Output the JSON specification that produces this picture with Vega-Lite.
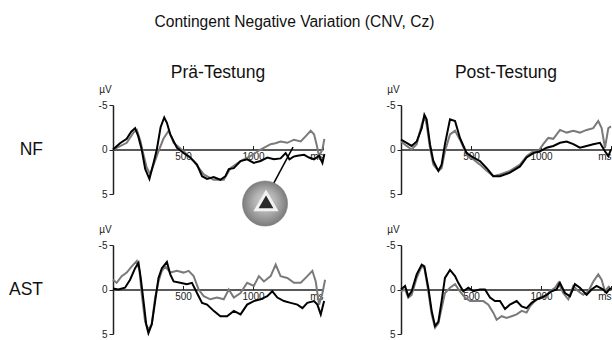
{
"$schema": "https://vega.github.io/schema/vega-lite/v6.json",
"padding": {"left": 8, "top": 14, "right": 0, "bottom": 0},
"background": "white",
"title": {"text": "Contingent Negative Variation (CNV, Cz)", "anchor": "middle", "fontSize": 15.6, "fontWeight": "normal", "font": "Liberation Sans", "color": "#111", "dx": -17.5, "offset": 33.5},
"datasets": {
"d": [
{"g":"NF","p":"Prä-Testung","s":"A","ms":0,"uv":0},{"g":"NF","p":"Prä-Testung","s":"A","ms":50,"uv":-0.7},{"g":"NF","p":"Prä-Testung","s":"A","ms":98,"uv":-1.2},{"g":"NF","p":"Prä-Testung","s":"A","ms":130,"uv":-2.0},{"g":"NF","p":"Prä-Testung","s":"A","ms":158,"uv":-2.4},{"g":"NF","p":"Prä-Testung","s":"A","ms":180,"uv":-1.5},{"g":"NF","p":"Prä-Testung","s":"A","ms":205,"uv":0},{"g":"NF","p":"Prä-Testung","s":"A","ms":230,"uv":2.2},{"g":"NF","p":"Prä-Testung","s":"A","ms":260,"uv":3.3},{"g":"NF","p":"Prä-Testung","s":"A","ms":290,"uv":1.5},{"g":"NF","p":"Prä-Testung","s":"A","ms":313,"uv":0},{"g":"NF","p":"Prä-Testung","s":"A","ms":340,"uv":-2.5},{"g":"NF","p":"Prä-Testung","s":"A","ms":366,"uv":-3.6},{"g":"NF","p":"Prä-Testung","s":"A","ms":385,"uv":-3.0},{"g":"NF","p":"Prä-Testung","s":"A","ms":409,"uv":-1.7},{"g":"NF","p":"Prä-Testung","s":"A","ms":456,"uv":-0.2},{"g":"NF","p":"Prä-Testung","s":"A","ms":504,"uv":0.4},{"g":"NF","p":"Prä-Testung","s":"A","ms":552,"uv":0.9},{"g":"NF","p":"Prä-Testung","s":"A","ms":600,"uv":1.7},{"g":"NF","p":"Prä-Testung","s":"A","ms":636,"uv":3.0},{"g":"NF","p":"Prä-Testung","s":"A","ms":672,"uv":3.3},{"g":"NF","p":"Prä-Testung","s":"A","ms":719,"uv":3.1},{"g":"NF","p":"Prä-Testung","s":"A","ms":767,"uv":3.4},{"g":"NF","p":"Prä-Testung","s":"A","ms":803,"uv":3.0},{"g":"NF","p":"Prä-Testung","s":"A","ms":827,"uv":2.2},{"g":"NF","p":"Prä-Testung","s":"A","ms":863,"uv":2.1},{"g":"NF","p":"Prä-Testung","s":"A","ms":911,"uv":1.3},{"g":"NF","p":"Prä-Testung","s":"A","ms":958,"uv":1.1},{"g":"NF","p":"Prä-Testung","s":"A","ms":1006,"uv":1.5},{"g":"NF","p":"Prä-Testung","s":"A","ms":1054,"uv":1.3},{"g":"NF","p":"Prä-Testung","s":"A","ms":1102,"uv":0.9},{"g":"NF","p":"Prä-Testung","s":"A","ms":1150,"uv":1.1},{"g":"NF","p":"Prä-Testung","s":"A","ms":1197,"uv":1.0},{"g":"NF","p":"Prä-Testung","s":"A","ms":1233,"uv":0.4},{"g":"NF","p":"Prä-Testung","s":"A","ms":1260,"uv":1.1},{"g":"NF","p":"Prä-Testung","s":"A","ms":1290,"uv":0.8},{"g":"NF","p":"Prä-Testung","s":"A","ms":1317,"uv":0.7},{"g":"NF","p":"Prä-Testung","s":"A","ms":1365,"uv":0.6},{"g":"NF","p":"Prä-Testung","s":"A","ms":1400,"uv":0.9},{"g":"NF","p":"Prä-Testung","s":"A","ms":1436,"uv":1.1},{"g":"NF","p":"Prä-Testung","s":"A","ms":1472,"uv":0.7},{"g":"NF","p":"Prä-Testung","s":"A","ms":1496,"uv":1.5},{"g":"NF","p":"Prä-Testung","s":"A","ms":1510,"uv":0.5},
{"g":"NF","p":"Prä-Testung","s":"B","ms":0,"uv":0},{"g":"NF","p":"Prä-Testung","s":"B","ms":40,"uv":-0.3},{"g":"NF","p":"Prä-Testung","s":"B","ms":98,"uv":-0.75},{"g":"NF","p":"Prä-Testung","s":"B","ms":146,"uv":-1.9},{"g":"NF","p":"Prä-Testung","s":"B","ms":170,"uv":-2.2},{"g":"NF","p":"Prä-Testung","s":"B","ms":195,"uv":-1.0},{"g":"NF","p":"Prä-Testung","s":"B","ms":218,"uv":0.6},{"g":"NF","p":"Prä-Testung","s":"B","ms":240,"uv":2.0},{"g":"NF","p":"Prä-Testung","s":"B","ms":265,"uv":2.8},{"g":"NF","p":"Prä-Testung","s":"B","ms":295,"uv":1.5},{"g":"NF","p":"Prä-Testung","s":"B","ms":325,"uv":0.2},{"g":"NF","p":"Prä-Testung","s":"B","ms":360,"uv":-1.2},{"g":"NF","p":"Prä-Testung","s":"B","ms":397,"uv":-2.1},{"g":"NF","p":"Prä-Testung","s":"B","ms":415,"uv":-1.5},{"g":"NF","p":"Prä-Testung","s":"B","ms":433,"uv":-0.75},{"g":"NF","p":"Prä-Testung","s":"B","ms":504,"uv":0.2},{"g":"NF","p":"Prä-Testung","s":"B","ms":576,"uv":1.3},{"g":"NF","p":"Prä-Testung","s":"B","ms":648,"uv":2.8},{"g":"NF","p":"Prä-Testung","s":"B","ms":719,"uv":3.4},{"g":"NF","p":"Prä-Testung","s":"B","ms":791,"uv":3.4},{"g":"NF","p":"Prä-Testung","s":"B","ms":839,"uv":2.1},{"g":"NF","p":"Prä-Testung","s":"B","ms":911,"uv":1.3},{"g":"NF","p":"Prä-Testung","s":"B","ms":982,"uv":0.75},{"g":"NF","p":"Prä-Testung","s":"B","ms":1054,"uv":0},{"g":"NF","p":"Prä-Testung","s":"B","ms":1090,"uv":-0.3},{"g":"NF","p":"Prä-Testung","s":"B","ms":1126,"uv":-0.6},{"g":"NF","p":"Prä-Testung","s":"B","ms":1160,"uv":-0.7},{"g":"NF","p":"Prä-Testung","s":"B","ms":1197,"uv":-0.9},{"g":"NF","p":"Prä-Testung","s":"B","ms":1245,"uv":-0.75},{"g":"NF","p":"Prä-Testung","s":"B","ms":1293,"uv":-1.1},{"g":"NF","p":"Prä-Testung","s":"B","ms":1341,"uv":-0.9},{"g":"NF","p":"Prä-Testung","s":"B","ms":1377,"uv":-1.5},{"g":"NF","p":"Prä-Testung","s":"B","ms":1412,"uv":-2.1},{"g":"NF","p":"Prä-Testung","s":"B","ms":1436,"uv":-1.7},{"g":"NF","p":"Prä-Testung","s":"B","ms":1455,"uv":-0.5},{"g":"NF","p":"Prä-Testung","s":"B","ms":1472,"uv":0.75},{"g":"NF","p":"Prä-Testung","s":"B","ms":1496,"uv":0},{"g":"NF","p":"Prä-Testung","s":"B","ms":1510,"uv":-1.2},
{"g":"NF","p":"Post-Testung","s":"A","ms":0,"uv":-1.1},{"g":"NF","p":"Post-Testung","s":"A","ms":40,"uv":-0.75},{"g":"NF","p":"Post-Testung","s":"A","ms":76,"uv":-0.4},{"g":"NF","p":"Post-Testung","s":"A","ms":112,"uv":-0.9},{"g":"NF","p":"Post-Testung","s":"A","ms":148,"uv":-2.4},{"g":"NF","p":"Post-Testung","s":"A","ms":167,"uv":-3.9},{"g":"NF","p":"Post-Testung","s":"A","ms":183,"uv":-3.4},{"g":"NF","p":"Post-Testung","s":"A","ms":207,"uv":-0.6},{"g":"NF","p":"Post-Testung","s":"A","ms":231,"uv":1.3},{"g":"NF","p":"Post-Testung","s":"A","ms":267,"uv":2.4},{"g":"NF","p":"Post-Testung","s":"A","ms":290,"uv":1.7},{"g":"NF","p":"Post-Testung","s":"A","ms":314,"uv":-0.6},{"g":"NF","p":"Post-Testung","s":"A","ms":350,"uv":-3.4},{"g":"NF","p":"Post-Testung","s":"A","ms":386,"uv":-3.2},{"g":"NF","p":"Post-Testung","s":"A","ms":421,"uv":-1.3},{"g":"NF","p":"Post-Testung","s":"A","ms":469,"uv":0.4},{"g":"NF","p":"Post-Testung","s":"A","ms":516,"uv":0.9},{"g":"NF","p":"Post-Testung","s":"A","ms":564,"uv":1.3},{"g":"NF","p":"Post-Testung","s":"A","ms":612,"uv":2.1},{"g":"NF","p":"Post-Testung","s":"A","ms":659,"uv":3.0},{"g":"NF","p":"Post-Testung","s":"A","ms":707,"uv":3.0},{"g":"NF","p":"Post-Testung","s":"A","ms":778,"uv":2.6},{"g":"NF","p":"Post-Testung","s":"A","ms":850,"uv":1.9},{"g":"NF","p":"Post-Testung","s":"A","ms":897,"uv":0.9},{"g":"NF","p":"Post-Testung","s":"A","ms":945,"uv":0.4},{"g":"NF","p":"Post-Testung","s":"A","ms":993,"uv":0.2},{"g":"NF","p":"Post-Testung","s":"A","ms":1040,"uv":-0.2},{"g":"NF","p":"Post-Testung","s":"A","ms":1088,"uv":-0.4},{"g":"NF","p":"Post-Testung","s":"A","ms":1136,"uv":-0.75},{"g":"NF","p":"Post-Testung","s":"A","ms":1183,"uv":-0.9},{"g":"NF","p":"Post-Testung","s":"A","ms":1231,"uv":-0.6},{"g":"NF","p":"Post-Testung","s":"A","ms":1278,"uv":-0.2},{"g":"NF","p":"Post-Testung","s":"A","ms":1326,"uv":-0.4},{"g":"NF","p":"Post-Testung","s":"A","ms":1373,"uv":-0.6},{"g":"NF","p":"Post-Testung","s":"A","ms":1421,"uv":-0.75},{"g":"NF","p":"Post-Testung","s":"A","ms":1457,"uv":0.2},{"g":"NF","p":"Post-Testung","s":"A","ms":1481,"uv":0.75},{"g":"NF","p":"Post-Testung","s":"A","ms":1500,"uv":0},
{"g":"NF","p":"Post-Testung","s":"B","ms":0,"uv":-0.9},{"g":"NF","p":"Post-Testung","s":"B","ms":40,"uv":-0.4},{"g":"NF","p":"Post-Testung","s":"B","ms":76,"uv":0},{"g":"NF","p":"Post-Testung","s":"B","ms":112,"uv":-0.6},{"g":"NF","p":"Post-Testung","s":"B","ms":148,"uv":-2.8},{"g":"NF","p":"Post-Testung","s":"B","ms":167,"uv":-3.7},{"g":"NF","p":"Post-Testung","s":"B","ms":183,"uv":-2.8},{"g":"NF","p":"Post-Testung","s":"B","ms":207,"uv":-0.2},{"g":"NF","p":"Post-Testung","s":"B","ms":231,"uv":1.7},{"g":"NF","p":"Post-Testung","s":"B","ms":267,"uv":2.4},{"g":"NF","p":"Post-Testung","s":"B","ms":290,"uv":2.1},{"g":"NF","p":"Post-Testung","s":"B","ms":314,"uv":0.2},{"g":"NF","p":"Post-Testung","s":"B","ms":350,"uv":-1.7},{"g":"NF","p":"Post-Testung","s":"B","ms":386,"uv":-2.1},{"g":"NF","p":"Post-Testung","s":"B","ms":421,"uv":-1.1},{"g":"NF","p":"Post-Testung","s":"B","ms":469,"uv":0.6},{"g":"NF","p":"Post-Testung","s":"B","ms":516,"uv":1.1},{"g":"NF","p":"Post-Testung","s":"B","ms":564,"uv":1.7},{"g":"NF","p":"Post-Testung","s":"B","ms":612,"uv":2.4},{"g":"NF","p":"Post-Testung","s":"B","ms":659,"uv":3.0},{"g":"NF","p":"Post-Testung","s":"B","ms":707,"uv":2.8},{"g":"NF","p":"Post-Testung","s":"B","ms":778,"uv":2.4},{"g":"NF","p":"Post-Testung","s":"B","ms":850,"uv":1.7},{"g":"NF","p":"Post-Testung","s":"B","ms":897,"uv":0.75},{"g":"NF","p":"Post-Testung","s":"B","ms":945,"uv":0.2},{"g":"NF","p":"Post-Testung","s":"B","ms":981,"uv":0.2},{"g":"NF","p":"Post-Testung","s":"B","ms":1016,"uv":-0.6},{"g":"NF","p":"Post-Testung","s":"B","ms":1052,"uv":-1.3},{"g":"NF","p":"Post-Testung","s":"B","ms":1088,"uv":-1.2},{"g":"NF","p":"Post-Testung","s":"B","ms":1136,"uv":-2.2},{"g":"NF","p":"Post-Testung","s":"B","ms":1183,"uv":-1.9},{"g":"NF","p":"Post-Testung","s":"B","ms":1231,"uv":-2.1},{"g":"NF","p":"Post-Testung","s":"B","ms":1278,"uv":-1.9},{"g":"NF","p":"Post-Testung","s":"B","ms":1326,"uv":-2.2},{"g":"NF","p":"Post-Testung","s":"B","ms":1373,"uv":-2.4},{"g":"NF","p":"Post-Testung","s":"B","ms":1409,"uv":-3.2},{"g":"NF","p":"Post-Testung","s":"B","ms":1433,"uv":-2.4},{"g":"NF","p":"Post-Testung","s":"B","ms":1457,"uv":-0.2},{"g":"NF","p":"Post-Testung","s":"B","ms":1481,"uv":-2.4},{"g":"NF","p":"Post-Testung","s":"B","ms":1500,"uv":-2.6},
{"g":"AST","p":"Prä-Testung","s":"A","ms":0,"uv":-0.1},{"g":"AST","p":"Prä-Testung","s":"A","ms":38,"uv":0},{"g":"AST","p":"Prä-Testung","s":"A","ms":86,"uv":-0.2},{"g":"AST","p":"Prä-Testung","s":"A","ms":122,"uv":-1.1},{"g":"AST","p":"Prä-Testung","s":"A","ms":158,"uv":-2.4},{"g":"AST","p":"Prä-Testung","s":"A","ms":182,"uv":-3.0},{"g":"AST","p":"Prä-Testung","s":"A","ms":198,"uv":-1.3},{"g":"AST","p":"Prä-Testung","s":"A","ms":218,"uv":1.3},{"g":"AST","p":"Prä-Testung","s":"A","ms":237,"uv":3.9},{"g":"AST","p":"Prä-Testung","s":"A","ms":253,"uv":4.9},{"g":"AST","p":"Prä-Testung","s":"A","ms":277,"uv":3.9},{"g":"AST","p":"Prä-Testung","s":"A","ms":301,"uv":1.3},{"g":"AST","p":"Prä-Testung","s":"A","ms":325,"uv":-1.3},{"g":"AST","p":"Prä-Testung","s":"A","ms":349,"uv":-2.4},{"g":"AST","p":"Prä-Testung","s":"A","ms":385,"uv":-3.1},{"g":"AST","p":"Prä-Testung","s":"A","ms":409,"uv":-1.7},{"g":"AST","p":"Prä-Testung","s":"A","ms":433,"uv":-0.9},{"g":"AST","p":"Prä-Testung","s":"A","ms":480,"uv":-0.75},{"g":"AST","p":"Prä-Testung","s":"A","ms":528,"uv":-0.6},{"g":"AST","p":"Prä-Testung","s":"A","ms":564,"uv":-0.75},{"g":"AST","p":"Prä-Testung","s":"A","ms":600,"uv":0.4},{"g":"AST","p":"Prä-Testung","s":"A","ms":636,"uv":1.5},{"g":"AST","p":"Prä-Testung","s":"A","ms":672,"uv":1.7},{"g":"AST","p":"Prä-Testung","s":"A","ms":719,"uv":2.4},{"g":"AST","p":"Prä-Testung","s":"A","ms":767,"uv":3.0},{"g":"AST","p":"Prä-Testung","s":"A","ms":815,"uv":3.0},{"g":"AST","p":"Prä-Testung","s":"A","ms":863,"uv":2.4},{"g":"AST","p":"Prä-Testung","s":"A","ms":911,"uv":2.8},{"g":"AST","p":"Prä-Testung","s":"A","ms":958,"uv":1.7},{"g":"AST","p":"Prä-Testung","s":"A","ms":1006,"uv":1.3},{"g":"AST","p":"Prä-Testung","s":"A","ms":1054,"uv":1.1},{"g":"AST","p":"Prä-Testung","s":"A","ms":1102,"uv":0.75},{"g":"AST","p":"Prä-Testung","s":"A","ms":1138,"uv":0.2},{"g":"AST","p":"Prä-Testung","s":"A","ms":1174,"uv":0.9},{"g":"AST","p":"Prä-Testung","s":"A","ms":1221,"uv":1.3},{"g":"AST","p":"Prä-Testung","s":"A","ms":1269,"uv":1.5},{"g":"AST","p":"Prä-Testung","s":"A","ms":1317,"uv":1.7},{"g":"AST","p":"Prä-Testung","s":"A","ms":1353,"uv":2.1},{"g":"AST","p":"Prä-Testung","s":"A","ms":1388,"uv":1.5},{"g":"AST","p":"Prä-Testung","s":"A","ms":1436,"uv":1.3},{"g":"AST","p":"Prä-Testung","s":"A","ms":1460,"uv":1.7},{"g":"AST","p":"Prä-Testung","s":"A","ms":1484,"uv":2.8},{"g":"AST","p":"Prä-Testung","s":"A","ms":1508,"uv":1.3},
{"g":"AST","p":"Prä-Testung","s":"B","ms":0,"uv":-1.1},{"g":"AST","p":"Prä-Testung","s":"B","ms":26,"uv":-0.75},{"g":"AST","p":"Prä-Testung","s":"B","ms":62,"uv":-1.5},{"g":"AST","p":"Prä-Testung","s":"B","ms":98,"uv":-1.9},{"g":"AST","p":"Prä-Testung","s":"B","ms":134,"uv":-2.6},{"g":"AST","p":"Prä-Testung","s":"B","ms":170,"uv":-3.2},{"g":"AST","p":"Prä-Testung","s":"B","ms":189,"uv":-2.1},{"g":"AST","p":"Prä-Testung","s":"B","ms":206,"uv":0.6},{"g":"AST","p":"Prä-Testung","s":"B","ms":229,"uv":3.6},{"g":"AST","p":"Prä-Testung","s":"B","ms":253,"uv":4.5},{"g":"AST","p":"Prä-Testung","s":"B","ms":277,"uv":3.9},{"g":"AST","p":"Prä-Testung","s":"B","ms":301,"uv":0.9},{"g":"AST","p":"Prä-Testung","s":"B","ms":325,"uv":-0.9},{"g":"AST","p":"Prä-Testung","s":"B","ms":349,"uv":-2.1},{"g":"AST","p":"Prä-Testung","s":"B","ms":373,"uv":-2.6},{"g":"AST","p":"Prä-Testung","s":"B","ms":409,"uv":-1.9},{"g":"AST","p":"Prä-Testung","s":"B","ms":456,"uv":-2.1},{"g":"AST","p":"Prä-Testung","s":"B","ms":504,"uv":-1.9},{"g":"AST","p":"Prä-Testung","s":"B","ms":540,"uv":-2.1},{"g":"AST","p":"Prä-Testung","s":"B","ms":576,"uv":-1.5},{"g":"AST","p":"Prä-Testung","s":"B","ms":612,"uv":0},{"g":"AST","p":"Prä-Testung","s":"B","ms":648,"uv":0.75},{"g":"AST","p":"Prä-Testung","s":"B","ms":695,"uv":1.1},{"g":"AST","p":"Prä-Testung","s":"B","ms":743,"uv":0.9},{"g":"AST","p":"Prä-Testung","s":"B","ms":791,"uv":1.1},{"g":"AST","p":"Prä-Testung","s":"B","ms":827,"uv":0},{"g":"AST","p":"Prä-Testung","s":"B","ms":863,"uv":0.9},{"g":"AST","p":"Prä-Testung","s":"B","ms":911,"uv":0.4},{"g":"AST","p":"Prä-Testung","s":"B","ms":958,"uv":-0.75},{"g":"AST","p":"Prä-Testung","s":"B","ms":1006,"uv":-0.4},{"g":"AST","p":"Prä-Testung","s":"B","ms":1042,"uv":-1.5},{"g":"AST","p":"Prä-Testung","s":"B","ms":1078,"uv":-0.9},{"g":"AST","p":"Prä-Testung","s":"B","ms":1126,"uv":-1.5},{"g":"AST","p":"Prä-Testung","s":"B","ms":1162,"uv":-2.8},{"g":"AST","p":"Prä-Testung","s":"B","ms":1197,"uv":-1.5},{"g":"AST","p":"Prä-Testung","s":"B","ms":1245,"uv":-1.3},{"g":"AST","p":"Prä-Testung","s":"B","ms":1293,"uv":-0.75},{"g":"AST","p":"Prä-Testung","s":"B","ms":1341,"uv":-0.75},{"g":"AST","p":"Prä-Testung","s":"B","ms":1388,"uv":-1.5},{"g":"AST","p":"Prä-Testung","s":"B","ms":1424,"uv":-2.1},{"g":"AST","p":"Prä-Testung","s":"B","ms":1448,"uv":-0.9},{"g":"AST","p":"Prä-Testung","s":"B","ms":1472,"uv":1.7},{"g":"AST","p":"Prä-Testung","s":"B","ms":1496,"uv":0.4},{"g":"AST","p":"Prä-Testung","s":"B","ms":1515,"uv":-1.1},
{"g":"AST","p":"Post-Testung","s":"A","ms":0,"uv":0},{"g":"AST","p":"Post-Testung","s":"A","ms":29,"uv":-0.4},{"g":"AST","p":"Post-Testung","s":"A","ms":52,"uv":0.75},{"g":"AST","p":"Post-Testung","s":"A","ms":76,"uv":0.2},{"g":"AST","p":"Post-Testung","s":"A","ms":112,"uv":-1.7},{"g":"AST","p":"Post-Testung","s":"A","ms":148,"uv":-2.8},{"g":"AST","p":"Post-Testung","s":"A","ms":167,"uv":-2.6},{"g":"AST","p":"Post-Testung","s":"A","ms":195,"uv":-0.2},{"g":"AST","p":"Post-Testung","s":"A","ms":219,"uv":2.4},{"g":"AST","p":"Post-Testung","s":"A","ms":243,"uv":4.1},{"g":"AST","p":"Post-Testung","s":"A","ms":267,"uv":3.6},{"g":"AST","p":"Post-Testung","s":"A","ms":290,"uv":1.3},{"g":"AST","p":"Post-Testung","s":"A","ms":314,"uv":-1.3},{"g":"AST","p":"Post-Testung","s":"A","ms":350,"uv":-2.2},{"g":"AST","p":"Post-Testung","s":"A","ms":386,"uv":-1.5},{"g":"AST","p":"Post-Testung","s":"A","ms":409,"uv":-0.75},{"g":"AST","p":"Post-Testung","s":"A","ms":445,"uv":0.2},{"g":"AST","p":"Post-Testung","s":"A","ms":481,"uv":-0.2},{"g":"AST","p":"Post-Testung","s":"A","ms":516,"uv":0.2},{"g":"AST","p":"Post-Testung","s":"A","ms":564,"uv":0},{"g":"AST","p":"Post-Testung","s":"A","ms":600,"uv":0},{"g":"AST","p":"Post-Testung","s":"A","ms":636,"uv":0.9},{"g":"AST","p":"Post-Testung","s":"A","ms":671,"uv":1.3},{"g":"AST","p":"Post-Testung","s":"A","ms":707,"uv":1.3},{"g":"AST","p":"Post-Testung","s":"A","ms":743,"uv":2.2},{"g":"AST","p":"Post-Testung","s":"A","ms":778,"uv":1.7},{"g":"AST","p":"Post-Testung","s":"A","ms":826,"uv":1.3},{"g":"AST","p":"Post-Testung","s":"A","ms":862,"uv":1.9},{"g":"AST","p":"Post-Testung","s":"A","ms":897,"uv":2.1},{"g":"AST","p":"Post-Testung","s":"A","ms":933,"uv":1.5},{"g":"AST","p":"Post-Testung","s":"A","ms":969,"uv":1.1},{"g":"AST","p":"Post-Testung","s":"A","ms":1004,"uv":0.9},{"g":"AST","p":"Post-Testung","s":"A","ms":1040,"uv":0.6},{"g":"AST","p":"Post-Testung","s":"A","ms":1076,"uv":0.2},{"g":"AST","p":"Post-Testung","s":"A","ms":1111,"uv":0},{"g":"AST","p":"Post-Testung","s":"A","ms":1135,"uv":-0.75},{"g":"AST","p":"Post-Testung","s":"A","ms":1171,"uv":0.4},{"g":"AST","p":"Post-Testung","s":"A","ms":1207,"uv":0.75},{"g":"AST","p":"Post-Testung","s":"A","ms":1242,"uv":-0.6},{"g":"AST","p":"Post-Testung","s":"A","ms":1278,"uv":-0.2},{"g":"AST","p":"Post-Testung","s":"A","ms":1326,"uv":0.6},{"g":"AST","p":"Post-Testung","s":"A","ms":1361,"uv":0},{"g":"AST","p":"Post-Testung","s":"A","ms":1397,"uv":-0.4},{"g":"AST","p":"Post-Testung","s":"A","ms":1445,"uv":0},{"g":"AST","p":"Post-Testung","s":"A","ms":1468,"uv":0.4},{"g":"AST","p":"Post-Testung","s":"A","ms":1497,"uv":-0.2},
{"g":"AST","p":"Post-Testung","s":"B","ms":0,"uv":0.2},{"g":"AST","p":"Post-Testung","s":"B","ms":29,"uv":0},{"g":"AST","p":"Post-Testung","s":"B","ms":52,"uv":0.9},{"g":"AST","p":"Post-Testung","s":"B","ms":76,"uv":0.6},{"g":"AST","p":"Post-Testung","s":"B","ms":112,"uv":-1.3},{"g":"AST","p":"Post-Testung","s":"B","ms":148,"uv":-2.6},{"g":"AST","p":"Post-Testung","s":"B","ms":167,"uv":-2.4},{"g":"AST","p":"Post-Testung","s":"B","ms":195,"uv":0.2},{"g":"AST","p":"Post-Testung","s":"B","ms":219,"uv":2.8},{"g":"AST","p":"Post-Testung","s":"B","ms":243,"uv":4.3},{"g":"AST","p":"Post-Testung","s":"B","ms":267,"uv":3.8},{"g":"AST","p":"Post-Testung","s":"B","ms":290,"uv":2.1},{"g":"AST","p":"Post-Testung","s":"B","ms":314,"uv":0.4},{"g":"AST","p":"Post-Testung","s":"B","ms":350,"uv":-0.2},{"g":"AST","p":"Post-Testung","s":"B","ms":386,"uv":-0.6},{"g":"AST","p":"Post-Testung","s":"B","ms":421,"uv":0.2},{"g":"AST","p":"Post-Testung","s":"B","ms":457,"uv":0.9},{"g":"AST","p":"Post-Testung","s":"B","ms":493,"uv":1.3},{"g":"AST","p":"Post-Testung","s":"B","ms":540,"uv":1.3},{"g":"AST","p":"Post-Testung","s":"B","ms":588,"uv":1.3},{"g":"AST","p":"Post-Testung","s":"B","ms":624,"uv":1.7},{"g":"AST","p":"Post-Testung","s":"B","ms":659,"uv":2.6},{"g":"AST","p":"Post-Testung","s":"B","ms":683,"uv":3.4},{"g":"AST","p":"Post-Testung","s":"B","ms":719,"uv":3.0},{"g":"AST","p":"Post-Testung","s":"B","ms":755,"uv":3.2},{"g":"AST","p":"Post-Testung","s":"B","ms":790,"uv":3.0},{"g":"AST","p":"Post-Testung","s":"B","ms":826,"uv":2.8},{"g":"AST","p":"Post-Testung","s":"B","ms":862,"uv":2.4},{"g":"AST","p":"Post-Testung","s":"B","ms":897,"uv":2.6},{"g":"AST","p":"Post-Testung","s":"B","ms":921,"uv":1.9},{"g":"AST","p":"Post-Testung","s":"B","ms":957,"uv":1.3},{"g":"AST","p":"Post-Testung","s":"B","ms":993,"uv":0.9},{"g":"AST","p":"Post-Testung","s":"B","ms":1028,"uv":0.9},{"g":"AST","p":"Post-Testung","s":"B","ms":1064,"uv":0.2},{"g":"AST","p":"Post-Testung","s":"B","ms":1100,"uv":-0.2},{"g":"AST","p":"Post-Testung","s":"B","ms":1124,"uv":-0.75},{"g":"AST","p":"Post-Testung","s":"B","ms":1159,"uv":0.4},{"g":"AST","p":"Post-Testung","s":"B","ms":1195,"uv":1.1},{"g":"AST","p":"Post-Testung","s":"B","ms":1231,"uv":-0.4},{"g":"AST","p":"Post-Testung","s":"B","ms":1266,"uv":0.2},{"g":"AST","p":"Post-Testung","s":"B","ms":1302,"uv":0.6},{"g":"AST","p":"Post-Testung","s":"B","ms":1338,"uv":0.2},{"g":"AST","p":"Post-Testung","s":"B","ms":1374,"uv":-0.9},{"g":"AST","p":"Post-Testung","s":"B","ms":1409,"uv":-1.7},{"g":"AST","p":"Post-Testung","s":"B","ms":1433,"uv":-1.1},{"g":"AST","p":"Post-Testung","s":"B","ms":1457,"uv":0.2},{"g":"AST","p":"Post-Testung","s":"B","ms":1488,"uv":-0.4},
{"g":"NF","p":"Prä-Testung","s":"Zeiger","ms":1136,"uv":4.15},{"g":"NF","p":"Prä-Testung","s":"Zeiger","ms":1286,"uv":-0.26},
{"g":"NF","p":"Prä-Testung","s":"Kopf","ms":1086,"uv":6.07},
{"g":"NF","p":"Prä-Testung","s":"Fokus","ms":1093,"uv":5.8}
]
},
"data": {"name": "d"},
"facet": {
  "row": {"field": "g", "type": "nominal", "sort": ["NF", "AST"], "header": {"title": null, "labelAngle": 0, "labelOrient": "left", "labelAlign": "left", "labelFontSize": 17.5, "labelFont": "Liberation Sans", "labelColor": "#111", "labelPadding": 70}},
  "column": {"field": "p", "type": "nominal", "sort": ["Prä-Testung", "Post-Testung"], "header": {"title": null, "labelFontSize": 17.5, "labelFont": "Liberation Sans", "labelColor": "#111", "labelPadding": 23.5}}
},
"spacing": {"row": 51, "column": 78},
"bounds": "flush",
"resolve": {"axis": {"x": "independent", "y": "independent"}},
"spec": {
  "width": 210,
  "height": 89,
  "encoding": {
    "x": {"field": "ms", "type": "quantitative", "scale": {"domain": [0, 1500], "nice": false, "zero": false},
      "axis": {"values": [500, 1000, 1500], "labelExpr": "datum.value == 1500 ? 'ms' : '' + datum.value", "labelAlign": {"condition": {"test": "datum.value == 1500", "value": "right"}, "value": "center"}, "title": null, "offset": -44.5, "tickSize": -4, "labelPadding": 6, "grid": false, "domainColor": "#222", "domainWidth": 1.5, "tickColor": "#222", "tickWidth": 1, "labelFontSize": 10, "labelColor": "#222", "labelFont": "Liberation Sans", "labelFlush": false, "labelOverlap": false}},
    "y": {"field": "uv", "type": "quantitative", "scale": {"domain": [-5, 5], "reverse": true, "nice": false},
      "axis": {"values": [-5, 0, 5], "labelExpr": "datum.value < 0 ? '-' + abs(datum.value) : '' + datum.value", "title": "µV", "titleAngle": 0, "titleX": -8, "titleY": -11, "titleAlign": "center", "titleBaseline": "bottom", "titleFontSize": 10, "titleFontWeight": "normal", "titleFont": "Liberation Sans", "titleColor": "#222", "tickSize": 4, "labelPadding": 2, "grid": false, "domainColor": "#222", "domainWidth": 1.5, "tickColor": "#222", "labelFontSize": 10, "labelColor": "#222", "labelFont": "Liberation Sans"}}
  },
  "layer": [
    {"transform": [{"filter": "datum.s == 'B'"}], "mark": {"type": "line", "color": "#7a7a7a", "strokeWidth": 2}},
    {"transform": [{"filter": "datum.s == 'A'"}], "mark": {"type": "line", "color": "#000000", "strokeWidth": 2}},
    {"transform": [{"filter": "datum.s == 'Zeiger'"}], "mark": {"type": "line", "color": "#000000", "strokeWidth": 1.5}},
    {"transform": [{"filter": "datum.s == 'Kopf'"}], "mark": {"type": "point", "shape": "circle", "size": 2040, "filled": true, "opacity": 1, "strokeWidth": 0.5, "stroke": "#777777",
      "fill": {"gradient": "radial", "x1": 0.5, "y1": 0.42, "r1": 0, "x2": 0.5, "y2": 0.5, "r2": 0.5, "stops": [{"offset": 0, "color": "#d4d4d4"}, {"offset": 0.5, "color": "#b0b0b0"}, {"offset": 1, "color": "#7c7c7c"}]}}},
    {"transform": [{"filter": "datum.s == 'Fokus'"}], "mark": {"type": "point", "shape": "triangle-up", "size": 400, "filled": true, "opacity": 1, "fill": "#2a2a2a", "stroke": "#f2f2f2", "strokeWidth": 3}}
  ]
},
"config": {"view": {"stroke": null}, "font": "Liberation Sans"}
}
